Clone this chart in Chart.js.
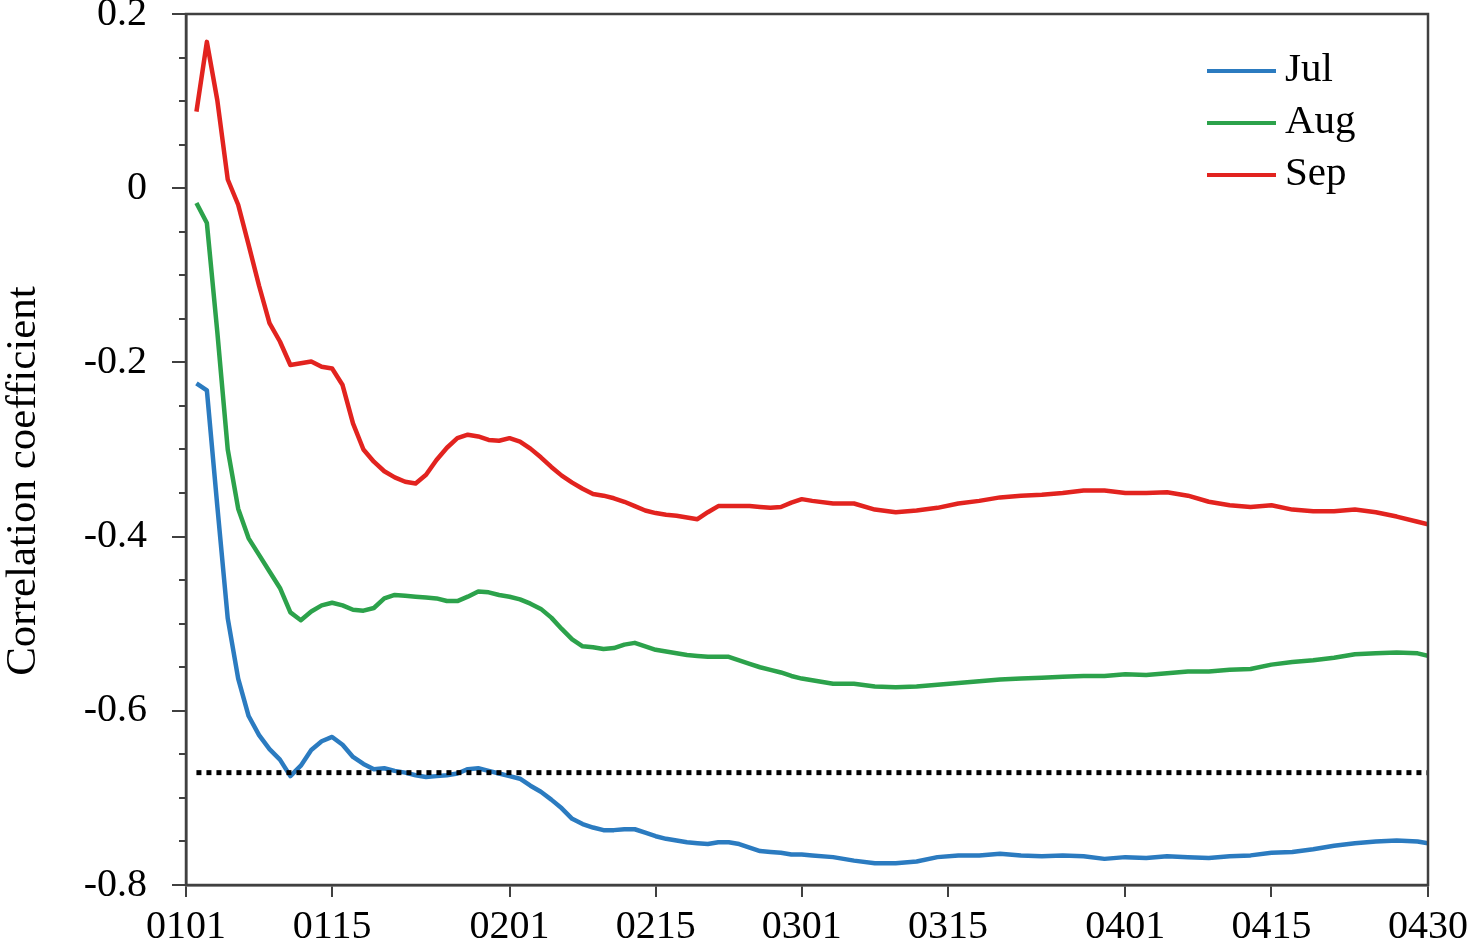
<!DOCTYPE html>
<html>
<head>
<meta charset="utf-8">
<script src="https://cdn.jsdelivr.net/npm/chart.js@4.4.1/dist/chart.umd.min.js"></script>
<style>
  html, body { margin: 0; padding: 0; background: #fff; }
  #wrap { width: 1477px; height: 943px; position: relative; }
</style>
</head>
<body>
<div id="wrap"><canvas id="chart"></canvas></div>
<script>
// --- Datos (día del año, 0 = 0101) ---
const days = [
  1, 2, 3, 4, 5, 6, 7, 8, 9, 10, 11, 12, 13, 14, 15, 16, 17, 18, 19, 20,
  21, 22, 23, 24, 25, 26, 27, 28, 29, 30, 31, 32, 33, 34, 35, 36, 37, 38, 39, 40,
  41, 42, 43, 44, 45, 46, 47, 48, 49, 50, 51, 52, 53, 54, 55, 56, 57, 58, 59, 60,
  62, 64, 66, 68, 70, 72, 74, 76, 78, 80, 82, 84, 86, 88, 90, 92, 94, 96, 98, 100,
  102, 104, 106, 108, 110, 112, 114, 116, 118, 119
];

const jul = [
  -0.224, -0.232, -0.365, -0.494, -0.563, -0.606, -0.628, -0.644, -0.656, -0.675,
  -0.663, -0.645, -0.635, -0.630, -0.639, -0.653, -0.661, -0.667, -0.666, -0.669,
  -0.671, -0.674, -0.676, -0.675, -0.674, -0.672, -0.667, -0.666, -0.669, -0.672,
  -0.675, -0.678, -0.686, -0.693, -0.702, -0.712, -0.724, -0.730, -0.734, -0.737,
  -0.737, -0.736, -0.736, -0.740, -0.744, -0.747, -0.749, -0.751, -0.752, -0.753,
  -0.751, -0.751, -0.753, -0.757, -0.761, -0.762, -0.763, -0.765, -0.765, -0.766,
  -0.768, -0.772, -0.775, -0.775, -0.773, -0.768, -0.766, -0.766, -0.764, -0.766,
  -0.767, -0.766, -0.767, -0.770, -0.768, -0.769, -0.767, -0.768, -0.769, -0.767,
  -0.766, -0.763, -0.762, -0.759, -0.755, -0.752, -0.750, -0.749, -0.750, -0.752
];

const aug = [
  -0.017, -0.040, -0.165, -0.300, -0.368, -0.402, -0.421, -0.440, -0.459, -0.487,
  -0.496, -0.486, -0.479, -0.476, -0.479, -0.484, -0.485, -0.482, -0.471, -0.467,
  -0.468, -0.469, -0.470, -0.471, -0.474, -0.474, -0.469, -0.463, -0.464, -0.467,
  -0.469, -0.472, -0.477, -0.483, -0.493, -0.506, -0.518, -0.526, -0.527, -0.529,
  -0.528, -0.524, -0.522, -0.526, -0.530, -0.532, -0.534, -0.536, -0.537, -0.538,
  -0.538, -0.538, -0.542, -0.546, -0.550, -0.553, -0.556, -0.560, -0.563, -0.565,
  -0.569, -0.569, -0.572, -0.573, -0.572, -0.570, -0.568, -0.566, -0.564, -0.563,
  -0.562, -0.561, -0.560, -0.560, -0.558, -0.559, -0.557, -0.555, -0.555, -0.553,
  -0.552, -0.547, -0.544, -0.542, -0.539, -0.535, -0.534, -0.533, -0.534, -0.537
];

const sep = [
  0.088, 0.168, 0.101, 0.010, -0.019, -0.065, -0.112, -0.155, -0.176, -0.203,
  -0.201, -0.199, -0.205, -0.207, -0.226, -0.270, -0.300, -0.314, -0.325, -0.332,
  -0.337, -0.339, -0.329, -0.312, -0.298, -0.287, -0.283, -0.285, -0.289, -0.290,
  -0.287, -0.291, -0.299, -0.309, -0.320, -0.330, -0.338, -0.345, -0.351, -0.353,
  -0.356, -0.360, -0.365, -0.370, -0.373, -0.375, -0.376, -0.378, -0.380, -0.372,
  -0.365, -0.365, -0.365, -0.365, -0.366, -0.367, -0.366, -0.361, -0.357, -0.359,
  -0.362, -0.362, -0.369, -0.372, -0.370, -0.367, -0.362, -0.359, -0.355, -0.353,
  -0.352, -0.350, -0.347, -0.347, -0.350, -0.350, -0.349, -0.353, -0.360, -0.364,
  -0.366, -0.364, -0.369, -0.371, -0.371, -0.369, -0.372, -0.377, -0.383, -0.386
];

// Umbral de significancia (línea punteada)
const thresholdDays = [1, 119];
const thresholdValue = -0.671;

// Ejes
const tickDays = [0, 14, 31, 45, 59, 73, 90, 104, 119];
const tickLabels = ['0101', '0115', '0201', '0215', '0301', '0315', '0401', '0415', '0430'];
const seriesNames = ['Jul', 'Aug', 'Sep'];
const seriesColors = ['#2b7bc0', '#2ca24b', '#e2231f'];
const yTitle = 'Correlation coefficient';

const FONT = "'Liberation Serif', 'Times New Roman', serif";
const AXIS = '#404040';

const toPoints = (vals) => days.map((d, i) => ({ x: d, y: vals[i] }));

// --- Plugins propios: marco, ticks menores, título Y, leyenda ---
const decorations = {
  id: 'decorations',
  afterDraw(chart) {
    const { ctx, chartArea: a, scales } = chart;
    ctx.save();

    // marco completo
    ctx.strokeStyle = AXIS;
    ctx.lineWidth = 2.5;
    ctx.strokeRect(a.left, a.top, a.right - a.left, a.bottom - a.top);

    // ticks menores del eje Y cada 0.05
    const y = scales.y;
    ctx.lineWidth = 2;
    ctx.beginPath();
    for (let v = y.min; v <= y.max + 1e-9; v += 0.05) {
      const py = Math.round(y.getPixelForValue(v));
      ctx.moveTo(a.left - 7, py);
      ctx.lineTo(a.left, py);
    }
    ctx.stroke();

    // título del eje Y
    ctx.fillStyle = '#000';
    ctx.font = `43px ${FONT}`;
    ctx.translate(35, 481);
    ctx.rotate(-Math.PI / 2);
    ctx.textAlign = 'center';
    ctx.textBaseline = 'alphabetic';
    ctx.fillText(yTitle, 0, 0);
    ctx.restore();

    // leyenda
    ctx.save();
    ctx.font = `41px ${FONT}`;
    ctx.textAlign = 'left';
    ctx.textBaseline = 'alphabetic';
    seriesNames.forEach((name, i) => {
      const ly = a.top + 57 + i * 52;
      ctx.strokeStyle = seriesColors[i];
      ctx.lineWidth = 4;
      ctx.beginPath();
      ctx.moveTo(a.right - 221, ly);
      ctx.lineTo(a.right - 152, ly);
      ctx.stroke();
      ctx.fillStyle = '#000';
      ctx.fillText(name, a.right - 143, ly + 10);
    });
    ctx.restore();
  }
};

const lineStyle = (label, vals, color) => ({
  label,
  data: toPoints(vals),
  borderColor: color,
  backgroundColor: color,
  borderWidth: 4.5,
  pointRadius: 0,
  tension: 0,
  borderJoinStyle: 'round',
  fill: false
});

new Chart(document.getElementById('chart'), {
  type: 'line',
  data: {
    datasets: [
      {
        label: 'threshold',
        data: thresholdDays.map(d => ({ x: d, y: thresholdValue })),
        borderColor: '#000',
        borderWidth: 5,
        borderDash: [5, 5],
        borderCapStyle: 'butt',
        pointRadius: 0,
        fill: false
      },
      lineStyle(seriesNames[0], jul, seriesColors[0]),
      lineStyle(seriesNames[1], aug, seriesColors[1]),
      lineStyle(seriesNames[2], sep, seriesColors[2])
    ]
  },
  options: {
    responsive: true,
    maintainAspectRatio: false,
    animation: false,
    layout: { padding: { top: 14, right: 49, bottom: 0, left: 0 } },
    plugins: {
      legend: { display: false },
      tooltip: { enabled: false },
      title: { display: false }
    },
    scales: {
      x: {
        type: 'linear',
        min: 0,
        max: 119,
        afterBuildTicks: (scale) => {
          scale.ticks = tickDays.map(v => ({ value: v }));
        },
        afterFit: (scale) => {
          scale.height = 58;
          scale.paddingLeft = 0;
          scale.paddingRight = 0;
        },
        ticks: {
          autoSkip: false,
          maxRotation: 0,
          color: '#000',
          padding: 6,
          font: { family: FONT, size: 40 },
          callback: (v) => tickLabels[tickDays.indexOf(v)] ?? ''
        },
        grid: {
          drawOnChartArea: false,
          drawTicks: true,
          tickLength: 12,
          color: AXIS,
          lineWidth: 2
        },
        border: { color: AXIS, width: 2.5 }
      },
      y: {
        min: -0.8,
        max: 0.2,
        afterFit: (scale) => {
          scale.width = 186;
          scale.paddingTop = 0;
          scale.paddingBottom = 0;
        },
        ticks: {
          stepSize: 0.2,
          color: '#000',
          padding: 25,
          font: { family: FONT, size: 40 },
          callback: (v) => Math.abs(v) < 1e-9 ? '0' : Number(v).toFixed(1)
        },
        grid: {
          drawOnChartArea: false,
          drawTicks: true,
          tickLength: 14,
          color: AXIS,
          lineWidth: 2
        },
        border: { color: AXIS, width: 2.5 }
      }
    }
  },
  plugins: [decorations]
});
</script>
</body>
</html>
